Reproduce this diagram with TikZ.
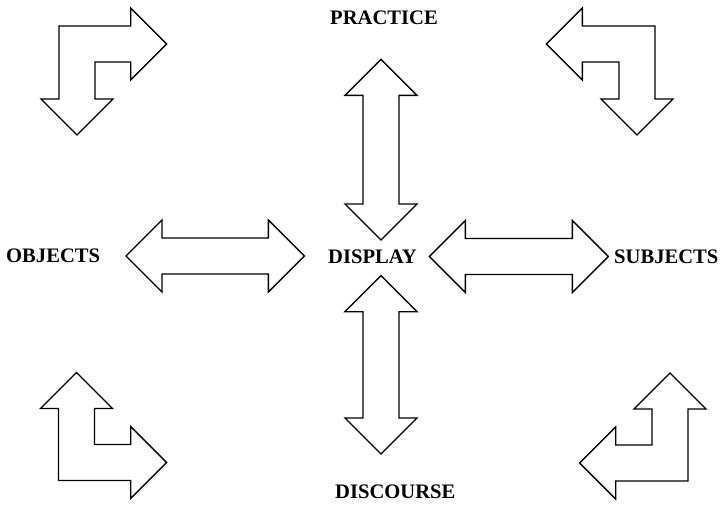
\documentclass[tikz,border=0pt]{standalone}
\usepackage{fontspec}
\setmainfont{Liberation Serif}
\begin{document}
\begin{tikzpicture}[x=1pt,y=-1pt,
  blockarrow/.style={draw=black,line width=1.4pt,line join=miter,fill=white},
  label/.style={inner sep=0pt,anchor=base west,font=\fontsize{20.6}{24}\selectfont\bfseries}]
\useasboundingbox (0,0) rectangle (721,506);
% labels
\node[label] (practice) at (330,24) {PRACTICE};
\node[label] (display) at (328,263.5) {DISPLAY};
\node[label] (objects) at (6,262.5) {OBJECTS};
\node[label] (subjects) at (614,263.5) {SUBJECTS};
\node[label] (discourse) at (335,498) {DISCOURSE};
% vertical double arrows
\draw[blockarrow] (381,59.3) -- (417,95.3) -- (399,95.3) -- (399,204) -- (417,204) -- (381,240) -- (345,204) -- (363,204) -- (363,95.3) -- (345,95.3) -- cycle;
\draw[blockarrow] (381,275.7) -- (417,311.7) -- (399,311.7) -- (399,418) -- (417,418) -- (381,454) -- (345,418) -- (363,418) -- (363,311.7) -- (345,311.7) -- cycle;
% horizontal double arrows
\draw[blockarrow] (126,256) -- (162,220) -- (162,238) -- (268.3,238) -- (268.3,220) -- (304.3,256) -- (268.3,292) -- (268.3,274) -- (162,274) -- (162,292) -- cycle;
\draw[blockarrow] (429.3,256.5) -- (465.3,220.5) -- (465.3,238.5) -- (572.3,238.5) -- (572.3,220.5) -- (608.3,256.5) -- (572.3,292.5) -- (572.3,274.5) -- (465.3,274.5) -- (465.3,292.5) -- cycle;
% corner bent arrows
\draw[blockarrow] (59,26) -- (130.7,26) -- (130.7,8) -- (166.7,44) -- (130.7,80) -- (130.7,62) -- (95,62) -- (95,99) -- (113,99) -- (77,135) -- (41,99) -- (59,99) -- cycle;
\draw[blockarrow] (655,26) -- (582.3,26) -- (582.3,8) -- (546.3,44) -- (582.3,80) -- (582.3,62) -- (619,62) -- (619,99) -- (601,99) -- (637,135) -- (673,99) -- (655,99) -- cycle;
\draw[blockarrow] (58.5,480.5) -- (58.5,408.5) -- (40.5,408.5) -- (76.5,372.5) -- (112.5,408.5) -- (94.5,408.5) -- (94.5,444.5) -- (130.7,444.5) -- (130.7,426.5) -- (166.7,462.5) -- (130.7,498.5) -- (130.7,480.5) -- cycle;
\draw[blockarrow] (688,481) -- (688,409) -- (706,409) -- (670,373) -- (634,409) -- (652,409) -- (652,445) -- (615.7,445) -- (615.7,427) -- (579.7,463) -- (615.7,499) -- (615.7,481) -- cycle;
\end{tikzpicture}
\end{document}
